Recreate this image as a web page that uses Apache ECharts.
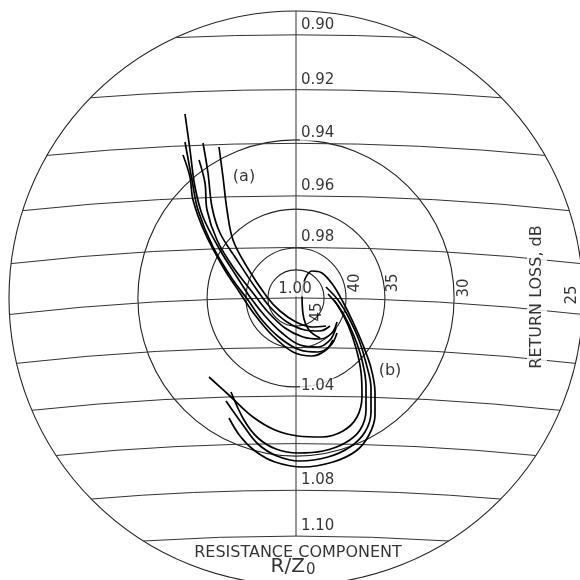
<!DOCTYPE html>
<html lang="en">
<head>
<meta charset="UTF-8">
<title>Return loss chart</title>
<script src="https://cdn.jsdelivr.net/npm/echarts@6/dist/echarts.min.js"></script>
<style>html,body{margin:0;padding:0;background:#fff}</style>
</head>
<body>
<div id="main" style="width:580px;height:580px"></div>
<script>
// resistance circles, R/Z0
var resistance = [0.90, 0.92, 0.94, 0.96, 0.98, 1.00, 1.02, 1.04, 1.06, 1.08, 1.10];
var resistanceTicks = ['0.90', '0.92', '0.94', '0.96', '0.98', '1.00', '1.04', '1.08', '1.10'];
// return loss circles, dB
var returnLoss = [45, 40, 35, 30];
var returnLossTicks = [45, 40, 35, 30, 25];
// rim of the chart (reflection coefficient x 1000)
var rim = 57.4;

// traces: [x, y] = reflection coefficient x 1000, y up = lower R
var a1 = [[-22.2,36.8],[-21.2,29.6],[-20.2,22.2],[-18.6,16.2],[-15.2,9.6],[-11.8,4.2],[-9.2,0.2],[-6.2,-3.6],[-2.8,-7.0],[0.8,-9.4],[4.4,-9.8],[6.8,-8.4],[8.0,-6.0]];
var a2 = [[-22.2,31.2],[-20.8,23.6],[-19.6,17.6],[-16.6,10.2],[-12.6,3.6],[-9.6,-0.4],[-6.8,-4.4],[-3.2,-8.0],[0.8,-10.4],[4.4,-10.8],[7.0,-9.4],[8.2,-7.0]];
var a3 = [[-22.6,28.6],[-21.2,24.2],[-20.6,19.6],[-18.2,13.0],[-14.6,6.2],[-11.2,1.0],[-8.2,-3.4],[-4.8,-7.4],[-0.6,-10.8],[3.2,-11.6],[6.0,-10.4],[7.4,-8.4]];
var a4 = [[-18.6,31.0],[-17.6,25.0],[-16.8,18.2],[-15.2,13.0],[-11.8,7.6],[-7.8,1.6],[-5.2,-1.8],[-1.8,-4.8],[1.8,-6.4],[4.8,-6.6],[6.8,-5.6]];
var a5 = [[-19.4,27.6],[-18.2,23.0],[-17.8,17.6],[-15.8,11.6],[-12.6,6.2],[-8.6,1.0],[-5.6,-2.8],[-2.2,-6.0],[1.4,-7.8],[4.8,-8.2],[7.2,-7.0],[8.2,-4.8]];
var a6 = [[-15.4,30.2],[-14.6,24.2],[-13.8,17.6],[-12.6,11.6],[-9.8,6.2],[-5.8,0.2],[-3.2,-2.6],[0.0,-4.8],[3.2,-5.8],[6.0,-5.6]];
var b1 = [[4.8,-8.0],[2.6,-6.4],[1.4,-3.2],[1.2,1.0],[1.8,3.8],[3.2,5.4],[5.2,5.0],[7.4,2.6],[9.4,-0.8],[11.4,-4.8],[13.4,-9.4],[15.0,-14.0],[15.8,-18.8],[15.8,-23.4],[14.6,-27.4],[12.0,-30.6],[7.4,-32.8],[1.4,-33.8],[-4.2,-32.8],[-8.2,-30.6],[-11.2,-27.6],[-13.4,-24.0]];
var b2 = [[6.0,2.2],[8.4,-0.4],[10.6,-4.0],[12.6,-8.4],[14.0,-13.0],[15.0,-18.0],[15.0,-22.8],[13.8,-26.8],[10.8,-29.8],[6.4,-31.8],[0.8,-32.6],[-3.8,-31.6],[-7.6,-29.2],[-10.6,-25.4],[-14.0,-20.6]];
var b3 = [[7.6,-0.4],[9.6,-3.4],[11.6,-7.6],[13.2,-12.4],[14.0,-17.6],[14.0,-22.4],[12.8,-26.4],[9.8,-29.0],[5.4,-30.6],[0.4,-31.0],[-4.0,-30.2],[-7.6,-28.0],[-10.4,-24.4],[-13.0,-18.8]];
var b4 = [[6.4,0.8],[8.4,-1.6],[10.4,-5.4],[12.0,-10.0],[13.0,-14.8],[13.2,-19.6],[12.2,-23.8],[9.4,-26.6],[5.2,-27.8],[0.4,-27.6],[-4.2,-26.4],[-8.6,-23.8],[-13.0,-19.8],[-17.4,-15.8]];

var FONT = 'DejaVu Sans';
var INK = '#000';

// reflection coefficient (x1000) where a resistance circle crosses the real axis
function gammaOf(r) {
    return 1000 * (r - 1) / (r + 1);
}
function rlRadius(db) {
    return 1000 * Math.pow(10, -db / 20);
}

function ringItem(params, api) {
    var rad = api.value(2);
    var c = api.coord([0, 0]);
    return {
        type: 'circle',
        shape: {cx: c[0], cy: c[1], r: api.size([rad, 0])[0]},
        style: {fill: 'none', stroke: '#222', lineWidth: 1.1}
    };
}

// constant-resistance circle, clipped to the rim
function arcItem(params, api) {
    var r = api.value(2);
    var d = 1000 * r / (1 + r), rho = 1000 / (1 + r);
    var a = (rim * rim - rho * rho + d * d) / (2 * d);
    var h = Math.sqrt(rim * rim - a * a);
    var c = api.coord([0, -d]);
    var pl = api.coord([-h, -a]), pr = api.coord([h, -a]);
    return {
        type: 'arc',
        shape: {
            cx: c[0], cy: c[1], r: api.size([rho, 0])[0],
            startAngle: Math.atan2(pl[1] - c[1], pl[0] - c[0]),
            endAngle: Math.atan2(pr[1] - c[1], pr[0] - c[0]),
            clockwise: true
        },
        style: {fill: 'none', stroke: '#333', lineWidth: 1}
    };
}

function trace(data) {
    return {
        type: 'line', data: data, smooth: 0.35, symbol: 'none', silent: true, z: 3,
        lineStyle: {color: '#000', width: 1.7}
    };
}

// text labels
var labels = [];
resistanceTicks.forEach(function (t) {
    var y = -gammaOf(parseFloat(t));
    if (t === '1.00') {
        labels.push({name: t, value: [-0.2, y + 1.8], label: {align: 'center'}});
    } else {
        labels.push({name: t, value: [0.8, y + 2], label: {align: 'left'}});
    }
});
var rlOffset = {45: [-1.4, -2.8], 40: [1.8, 3.0], 35: [1.6, 3.0], 30: [2.0, 2.0], 25: [-1.0, 0.6]};
returnLossTicks.forEach(function (db) {
    var o = rlOffset[db];
    labels.push({
        name: String(db), value: [rlRadius(db) + o[0], o[1]],
        label: {rotate: 90, backgroundColor: db === 45 ? 'transparent' : '#fff'}
    });
});
labels.push({name: 'RETURN LOSS, dB', value: [48.2, 0.2], label: {rotate: 90, fontSize: 16, padding: [2, 5]}});
labels.push({name: '(a)', value: [-10.4, 24.2], label: {fontSize: 16, backgroundColor: 'transparent'}});
labels.push({name: '(b)', value: [18.8, -14.6], label: {fontSize: 16, backgroundColor: 'transparent'}});
labels.push({name: 'RESISTANCE COMPONENT', value: [0.4, -50.9], label: {fontSize: 16, backgroundColor: 'transparent'}});
labels.push({
    name: 'R/Z0', value: [-0.6, -53.8],
    label: {
        backgroundColor: 'transparent',
        formatter: '{m|R/Z}{s|0}',
        rich: {
            m: {fontSize: 20, fontFamily: FONT, color: INK},
            s: {fontSize: 15, fontFamily: FONT, color: INK, padding: [6, 0, 0, 1]}
        }
    }
});

var chart = echarts.init(document.getElementById('main'));
var option = {
    animation: false,
    backgroundColor: '#fff',
    grid: {left: 0, right: 0, top: 0, bottom: 0},
    xAxis: {type: 'value', min: -59.2, max: 56.8, show: false},
    yAxis: {type: 'value', min: -56.4, max: 59.6, show: false},
    series: [
        {
            type: 'custom', renderItem: ringItem, silent: true, z: 2,
            data: returnLoss.map(function (db) { return [0, 0, rlRadius(db)]; }).concat([[0, 0, rim]])
        },
        {
            type: 'custom', renderItem: arcItem, silent: true, z: 2,
            data: resistance.map(function (r) { return [0, 0, r]; })
        },
        {
            type: 'line', symbol: 'none', silent: true, z: 2,
            data: [[0, rim], [0, -gammaOf(resistance[resistance.length - 1])]],
            lineStyle: {color: '#333', width: 1}
        },
        trace(a1), trace(a2), trace(a3), trace(a4), trace(a5), trace(a6),
        trace(b1), trace(b2), trace(b3), trace(b4),
        {
            type: 'scatter', silent: true, z: 6, symbolSize: 1,
            itemStyle: {color: 'rgba(0,0,0,0)'},
            label: {
                show: true, position: 'inside', formatter: '{b}',
                fontFamily: FONT, fontSize: 15, color: INK,
                backgroundColor: '#fff', padding: [0, 1]
            },
            data: labels
        }
    ]
};
chart.setOption(option);
</script>
</body>
</html>
